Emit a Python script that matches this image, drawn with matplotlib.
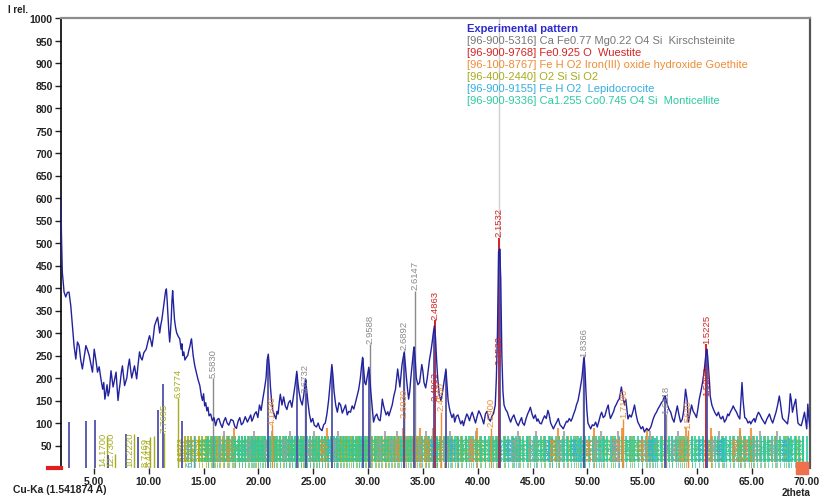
import numpy as np
import matplotlib
matplotlib.use('Agg')
import matplotlib.pyplot as plt
from matplotlib.patches import Rectangle

plt.rcParams['font.family'] = ['Liberation Sans', 'DejaVu Sans']

WAVELENGTH = 1.541874   # Cu-Ka

# experimental pattern (2theta, I rel.)
exp_2t = [2.00, 2.04, 2.12, 2.28, 2.43, 2.58, 2.73, 2.89, 3.04, 3.19, 3.35, 3.50, 3.65, 3.8, 3.95, 4.1, 4.27, 4.42, 4.57, 4.72,
          4.87, 5.03, 5.18, 5.33, 5.48, 5.64, 5.8, 5.9, 6.0, 6.1, 6.2, 6.3, 6.4, 6.56, 6.75, 6.9, 7.02, 7.1, 7.2, 7.3,
          7.4, 7.5, 7.6, 7.7, 7.8, 7.9, 8.0, 8.12, 8.24, 8.35, 8.45, 8.58, 8.70, 8.8, 8.9, 9.03, 9.16, 9.28, 9.4, 9.55,
          9.77, 9.92, 10.07, 10.2, 10.3, 10.42, 10.53, 10.67, 10.81, 10.9, 11.0, 11.1, 11.2, 11.33, 11.45, 11.53, 11.61, 11.68, 11.75, 11.83,
          11.91, 11.98, 12.05, 12.12, 12.18, 12.26, 12.35, 12.45, 12.55, 12.7, 12.83, 12.95, 13.03, 13.10, 13.2, 13.3, 13.43, 13.56, 13.66, 13.75,
          13.83, 13.90, 14.05, 14.20, 14.34, 14.48, 14.66, 14.8, 14.9, 15.0, 15.1, 15.2, 15.3, 15.4, 15.5, 15.65, 15.8, 15.95, 16.1, 16.25,
          16.4, 16.55, 16.7, 16.85, 17.0, 17.15, 17.3, 17.5, 17.7, 17.85, 18.0, 18.15, 18.3, 18.45, 18.6, 18.8, 19.0, 19.15, 19.3, 19.4,
          19.5, 19.65, 19.8, 19.95, 20.1, 20.25, 20.4, 20.55, 20.7, 20.8, 20.9, 21.0, 21.1, 21.2, 21.3, 21.45, 21.6, 21.7, 21.8, 21.9,
          22.0, 22.15, 22.3, 22.45, 22.6, 22.75, 22.9, 23.05, 23.2, 23.35, 23.5, 23.6, 23.7, 23.85, 24.0, 24.15, 24.3, 24.4, 24.5, 24.65,
          24.8, 24.95, 25.1, 25.3, 25.45, 25.6, 25.8, 25.95, 26.1, 26.25, 26.4, 26.55, 26.7, 26.8, 26.9, 27.05, 27.2, 27.35, 27.5, 27.65,
          27.8, 27.95, 28.1, 28.25, 28.4, 28.55, 28.7, 28.85, 29.0, 29.15, 29.3, 29.4, 29.5, 29.6, 29.7, 29.8, 29.9, 30.0, 30.07, 30.15,
          30.25, 30.4, 30.5, 30.65, 30.8, 30.95, 31.1, 31.2, 31.3, 31.4, 31.5, 31.65, 31.8, 31.9, 32.05, 32.2, 32.35, 32.5, 32.6, 32.7,
          32.8, 32.9, 33.0, 33.1, 33.2, 33.3, 33.4, 33.5, 33.6, 33.7, 33.8, 33.9, 34.0, 34.05, 34.15, 34.2, 34.3, 34.4, 34.55, 34.7,
          34.8, 34.9, 35.0, 35.1, 35.25, 35.4, 35.5, 35.6, 35.75, 35.85, 35.95, 36.05, 36.15, 36.25, 36.35, 36.5, 36.65, 36.8, 36.95, 37.1,
          37.2, 37.3, 37.4, 37.5, 37.65, 37.8, 37.9, 38.05, 38.2, 38.3, 38.45, 38.6, 38.7, 38.85, 39.0, 39.1, 39.25, 39.4, 39.5, 39.65,
          39.8, 39.95, 40.1, 40.25, 40.4, 40.55, 40.7, 40.85, 41.0, 41.15, 41.3, 41.45, 41.6, 41.7, 41.8, 41.9, 42.0, 42.1, 42.2, 42.3,
          42.4, 42.55, 42.7, 42.85, 43.0, 43.15, 43.3, 43.4, 43.55, 43.7, 43.85, 44.0, 44.1, 44.25, 44.4, 44.55, 44.7, 44.8, 44.95, 45.1,
          45.25, 45.4, 45.5, 45.65, 45.8, 45.95, 46.1, 46.25, 46.4, 46.5, 46.65, 46.8, 46.9, 47.05, 47.2, 47.35, 47.5, 47.65, 47.8, 47.95,
          48.1, 48.2, 48.35, 48.5, 48.6, 48.75, 48.9, 49.0, 49.15, 49.3, 49.4, 49.5, 49.6, 49.7, 49.78, 49.85, 49.95, 50.05, 50.2, 50.3,
          50.45, 50.6, 50.75, 50.9, 51.05, 51.2, 51.3, 51.45, 51.6, 51.75, 51.9, 52.0, 52.1, 52.25, 52.4, 52.5, 52.65, 52.8, 52.9, 53.0,
          53.1, 53.2, 53.3, 53.4, 53.5, 53.6, 53.7, 53.85, 54.0, 54.15, 54.3, 54.45, 54.6, 54.75, 54.9, 55.05, 55.2, 55.4, 55.6, 55.8,
          56.0, 56.15, 56.3, 56.45, 56.6, 56.75, 56.9, 57.0, 57.1, 57.2, 57.3, 57.45, 57.6, 57.75, 57.9, 58.05, 58.2, 58.35, 58.5, 58.65,
          58.8, 58.95, 59.1, 59.2, 59.35, 59.5, 59.65, 59.8, 59.95, 60.1, 60.2, 60.35, 60.5, 60.65, 60.75, 60.85, 60.9, 60.98, 61.05, 61.15,
          61.2, 61.35, 61.5, 61.65, 61.8, 61.95, 62.1, 62.2, 62.35, 62.5, 62.65, 62.8, 62.9, 63.05, 63.2, 63.3, 63.45, 63.6, 63.75, 63.9,
          64.0, 64.1, 64.2, 64.35, 64.5, 64.65, 64.8, 64.9, 65.05, 65.2, 65.3, 65.45, 65.6, 65.75, 65.9, 66.05, 66.2, 66.35, 66.5, 66.6,
          66.75, 66.9, 67.05, 67.2, 67.35, 67.5, 67.6, 67.7, 67.8, 67.95, 68.1, 68.25, 68.4, 68.5, 68.6, 68.7, 68.85, 69.0, 69.1, 69.2,
          69.35, 69.5, 69.65, 69.8, 69.9, 70.0, 70.1, 70.2, 70.3]
exp_i = [600, 520, 435, 391, 380, 390, 391, 361, 316, 272, 242, 280, 272, 240, 220, 245, 272, 262, 250, 232,
         213, 264, 240, 213, 225, 198, 175, 190, 153, 168, 185, 160, 170, 216, 180, 198, 213, 185, 150, 172,
         190, 212, 227, 205, 183, 192, 200, 225, 242, 218, 200, 214, 227, 212, 198, 230, 258, 245, 240, 256,
         264, 280, 294, 282, 270, 292, 316, 326, 335, 318, 300, 318, 330, 355, 380, 392, 398, 372, 340, 305,
         280, 302, 330, 372, 394, 365, 330, 312, 300, 292, 287, 264, 276, 250, 258, 240, 246, 250, 262, 270,
         280, 287, 250, 227, 212, 198, 183, 160, 150, 165, 138, 145, 127, 135, 116, 120, 105, 112, 94, 108,
         110, 98, 90, 104, 112, 100, 95, 108, 105, 92, 88, 104, 112, 96, 100, 114, 102, 110, 118, 104,
         109, 120, 125, 112, 140, 128, 153, 175, 200, 240, 253, 225, 180, 150, 130, 118, 109, 126, 120, 145,
         164, 140, 158, 138, 130, 145, 150, 135, 160, 185, 215, 190, 170, 150, 140, 165, 198, 175, 150, 120,
         102, 110, 95, 91, 100, 88, 83, 96, 100, 120, 150, 190, 230, 205, 170, 140, 124, 145, 140, 122,
         131, 140, 118, 126, 124, 138, 131, 145, 160, 175, 200, 225, 246, 220, 190, 185, 200, 215, 224, 205,
         170, 130, 102, 115, 120, 108, 105, 125, 153, 140, 130, 118, 125, 116, 128, 140, 160, 175, 198, 220,
         200, 180, 205, 230, 245, 257, 230, 200, 175, 153, 170, 200, 225, 240, 262, 269, 240, 200, 185, 190,
         210, 230, 215, 190, 178, 200, 220, 240, 262, 280, 300, 316, 290, 240, 200, 160, 150, 170, 195, 220,
         185, 150, 135, 124, 112, 120, 102, 115, 118, 110, 98, 105, 94, 108, 120, 116, 105, 118, 124, 112,
         100, 115, 127, 120, 110, 98, 120, 126, 109, 104, 115, 122, 140, 200, 300, 480, 487, 420, 250, 170,
         140, 130, 124, 112, 102, 112, 118, 110, 100, 94, 104, 112, 100, 95, 109, 120, 128, 135, 120, 110,
         118, 104, 109, 100, 98, 108, 116, 110, 128, 120, 100, 92, 87, 95, 102, 110, 96, 92, 87, 96,
         104, 102, 110, 104, 109, 120, 130, 140, 150, 170, 185, 200, 225, 247, 220, 180, 130, 100, 92, 87,
         96, 94, 102, 91, 104, 118, 124, 112, 116, 130, 140, 122, 110, 118, 126, 135, 142, 150, 153, 165,
         180, 165, 150, 140, 153, 130, 109, 118, 113, 125, 140, 118, 102, 95, 87, 92, 80, 88, 83, 92,
         109, 118, 124, 132, 138, 145, 150, 158, 160, 150, 140, 130, 124, 110, 102, 120, 138, 118, 102, 108,
         130, 175, 150, 102, 120, 140, 126, 120, 112, 135, 153, 170, 190, 215, 240, 262, 264, 245, 220, 185,
         160, 140, 130, 122, 116, 124, 112, 109, 115, 102, 108, 120, 116, 125, 132, 138, 130, 124, 115, 109,
         150, 190, 150, 112, 109, 100, 104, 98, 105, 110, 102, 115, 124, 118, 110, 104, 98, 108, 115, 120,
         108, 100, 112, 124, 140, 160, 145, 125, 110, 106, 102, 98, 125, 165, 150, 124, 140, 153, 125, 100,
         96, 94, 108, 124, 105, 87, 142, 110, 90]

# peak markers of the experimental pattern
peak_2t = [2.73, 4.24, 5.06, 6.28, 7.9, 9.02, 10.85, 11.3, 13.0, 20.9, 23.5, 24.3, 26.7, 29.5, 30.07,
           33.3, 34.2, 36.05, 37.1, 42.0, 49.7, 57.1, 60.9]
peak_i = [102, 104, 107, 29, 76, 69, 130, 187, 105, 250, 210, 195, 225, 245, 220,
          255, 265, 310, 215, 487, 245, 155, 260]

# labelled reference lines (d in A, height)
kirsch_d = [5.5830, 3.6732, 2.9588, 2.6892, 2.6147, 1.8366, 1.6118]
kirsch_h = [200, 165, 275, 262, 394, 245, 120]
wuest_d = [2.4863, 2.1532, 1.5225]
wuest_h = [328, 512, 275]
wuest2_h = [150, 232, 162]
goeth_d = [4.1830, 2.6930, 2.4500, 2.1900, 1.7190, 1.5610]
goeth_h = [95, 110, 125, 90, 110, 85]
lepido_d = [6.2600]
lepido_h = [72]
silica_low_d = [14.1700, 12.7300, 10.2220, 8.7469, 8.4424]
silica_low_h = [72, 32, 76, 70, 72]
silica_d = [7.7695, 6.9774]
silica_h = [78, 155]

# dense reference lines near the base (2theta)
silica_band = [13.3, 13.6, 13.9, 14.25, 14.6, 14.9, 15.2, 15.45, 15.7, 15.95, 16.2, 16.5, 16.8, 17.1, 17.35, 17.65,
               17.9, 18.2, 18.5, 18.8, 19.1, 19.4, 19.75, 20.0, 20.3, 20.6, 20.85, 21.1, 21.4, 21.65, 21.95, 22.25,
               22.5, 22.8, 23.05, 23.35, 23.6, 23.85, 24.1, 24.4, 24.7, 25.0, 25.3, 25.55, 25.8, 26.1, 26.35, 26.65,
               26.9, 27.2, 27.5, 27.8, 28.1, 28.4, 28.65, 28.95, 29.2, 29.5, 29.8, 30.1, 30.4, 30.7, 31.0, 31.3,
               31.6, 31.9, 32.15, 32.5, 32.8, 33.15, 33.5, 33.8, 34.1, 34.45, 34.8, 35.15, 35.5, 35.85, 36.2, 36.55,
               36.9, 37.3, 37.7, 38.1, 38.5, 38.95, 39.4, 39.8, 40.2, 40.7, 41.2, 41.8, 42.5, 43.2, 43.9, 44.6,
               45.3, 46.0, 46.6, 47.4, 48.2, 49.0, 49.8, 50.6, 51.5, 52.3, 53.2, 54.1, 55.0, 55.9, 56.8, 57.7,
               58.6, 59.5, 60.5, 61.4, 62.4, 63.3, 64.3, 65.2, 66.2, 67.1, 68.1, 69.0, 69.7]
montic_band = [15.4, 15.75, 16.05, 16.4, 16.9, 17.25, 17.6, 17.9, 18.2, 18.5, 18.75, 19.05, 19.3, 19.5, 19.7, 19.95,
               20.15, 20.4, 20.6, 20.85, 21.1, 21.4, 21.7, 22.0, 22.3, 22.55, 22.8, 23.05, 23.3, 23.6, 23.9, 24.15,
               24.4, 24.7, 25.0, 25.25, 25.5, 25.8, 26.1, 26.35, 26.6, 26.9, 27.2, 27.45, 27.7, 28.0, 28.3, 28.6,
               28.9, 29.15, 29.4, 29.7, 30.0, 30.3, 30.6, 30.9, 31.2, 31.5, 31.8, 32.1, 32.4, 32.7, 33.0, 33.3,
               33.6, 33.95, 34.3, 34.6, 34.9, 35.25, 35.6, 35.95, 36.3, 36.65, 37.0, 37.3, 37.6, 37.9, 38.2, 38.55,
               38.9, 39.25, 39.6, 39.95, 40.3, 40.65, 41.0, 41.35, 41.7, 42.05, 42.4, 42.75, 43.1, 43.45, 43.8, 44.15,
               44.5, 44.8, 45.1, 45.45, 45.8, 46.15, 46.5, 46.8, 47.1, 47.45, 47.8, 48.15, 48.5, 48.8, 49.1, 49.45,
               49.8, 50.15, 50.5, 50.8, 51.1, 51.45, 51.8, 52.15, 52.5, 52.85, 53.2, 53.55, 53.9, 54.25, 54.6, 54.95,
               55.3, 55.65, 56.0, 56.35, 56.7, 57.05, 57.4, 57.75, 58.1, 58.45, 58.8, 59.15, 59.5, 59.85, 60.2, 60.55,
               60.9, 61.25, 61.6, 61.95, 62.3, 62.65, 63.0, 63.35, 63.7, 64.05, 64.4, 64.75, 65.1, 65.45, 65.8, 66.15,
               66.5, 66.85, 67.2, 67.55, 67.9, 68.25, 68.6, 68.95, 69.3, 69.65, 70.0]
lepido_band = [27.1, 36.3, 38.2, 43.3, 46.8, 49.3, 52.9, 56.2, 60.8, 62.5, 64.9, 68.4]
kirsch_band = [16.9, 19.6, 21.2, 22.9, 25.1, 27.3, 31.5, 32.6, 35.3, 37.5, 39.8, 43.7, 45.3, 47.9, 51.2,
               52.8, 55.7, 58.3, 62.0, 63.9, 65.7, 67.3]
goeth_band = [17.8, 26.3, 33.2, 34.7, 35.9, 39.9, 47.3, 50.6, 53.2, 55.4, 59.0, 61.3, 63.9, 64.9]
band_h = 71
band_floor = 14
cursor_2t = 41.93

legend_lines = ['Experimental pattern',
                '[96-900-5316] Ca Fe0.77 Mg0.22 O4 Si  Kirschsteinite',
                '[96-900-9768] Fe0.925 O  Wuestite',
                '[96-100-8767] Fe H O2 Iron(III) oxide hydroxide Goethite',
                '[96-400-2440] O2 Si Si O2',
                '[96-900-9155] Fe H O2  Lepidocrocite',
                '[96-900-9336] Ca1.255 Co0.745 O4 Si  Monticellite']

C_EXP = '#22229e'
C_PEAK = '#5050aa'
C_KIR = '#8a8a8a'
C_WUE = '#d42424'
C_GOE = '#ee8c34'
C_SIL = '#a6ac1c'
C_LEP = '#34aee0'
C_MON = '#2ccaa2'
legend_colors = ['#2a2ad0', '#777777', C_WUE, C_GOE, C_SIL, C_LEP, C_MON]


def two_theta(d):
    return np.degrees(2 * np.arcsin(WAVELENGTH / (2 * np.asarray(d))))


def d_spacing(tt):
    return WAVELENGTH / (2 * np.sin(np.radians(np.asarray(tt) / 2)))


fig = plt.figure(figsize=(8.19, 5.02), dpi=100)
ax = fig.add_axes([61 / 819, 1 - 469 / 502, 749 / 819, 450 / 502])


def band(ax, tt, color, h, fs=5.6):
    # dense stick lines with their d labels written inside the base band
    ax.vlines(tt, band_floor, h, color=color, lw=1.5, alpha=0.85, zorder=2)
    ax.vlines(tt, 0, band_floor, color=color, lw=0.5, zorder=2)
    for t, d in zip(tt, d_spacing(tt)):
        ax.text(t, band_floor + 3, f'{d:.4f}', rotation=90, ha='right', va='bottom', fontsize=fs,
                color=color, zorder=3, fontweight='bold')


def labelled(ax, dvals, heights, color, lw=1.0, fs=6.8, low=False):
    tt = two_theta(dvals)
    ax.vlines(tt, 0, heights, color=color, lw=lw, zorder=3)
    for t, d, h in zip(tt, dvals, heights):
        if low:
            ax.text(t, 5, f'{d:.4f}', rotation=90, ha='right', va='bottom', fontsize=fs,
                    color=color, zorder=6)
        else:
            ax.text(t, h + 3, f'{d:.4f}', rotation=90, ha='center', va='bottom', fontsize=fs,
                    color=color, zorder=6)


ax.axvline(cursor_2t, color='#cfcfcf', lw=1.0, zorder=1)

# base band
band(ax, silica_band, C_SIL, band_h)
band(ax, montic_band, C_MON, band_h)
band(ax, lepido_band, C_LEP, band_h - 4)
band(ax, kirsch_band, '#a0a0a0', band_h + 12)
band(ax, goeth_band, C_GOE, band_h + 18)

# labelled lines
labelled(ax, silica_low_d, silica_low_h, C_SIL, low=True)
labelled(ax, silica_d, silica_h, C_SIL)
labelled(ax, lepido_d, lepido_h, C_LEP, low=True)
labelled(ax, goeth_d, goeth_h, C_GOE)
labelled(ax, kirsch_d, kirsch_h, C_KIR)
ax.vlines(peak_2t, 0, peak_i, color=C_PEAK, lw=1.3, zorder=4)
labelled(ax, wuest_d, wuest_h, C_WUE, lw=1.4)
for t, d, h in zip(two_theta(wuest_d), wuest_d, wuest2_h):
    ax.text(t, h, f'{d:.4f}', rotation=90, ha='center', va='bottom', fontsize=6.8,
            color=C_WUE, zorder=6)

ax.plot(exp_2t, exp_i, color=C_EXP, lw=1.0, zorder=5)

# legend block
for k, (txt, col) in enumerate(zip(legend_lines, legend_colors)):
    ax.text(0.542, 0.978 - k * 0.0267, txt, transform=ax.transAxes, fontsize=8, color=col,
            ha='left', va='center', fontweight='bold' if k == 0 else 'normal', zorder=7)

ax.set_xlim(2, 70.3)
ax.set_ylim(0, 1000)
ax.set_xticks(range(5, 71, 5))
ax.set_xticklabels([f'{v:.2f}' for v in range(5, 71, 5)])
ax.set_yticks(range(50, 1001, 50))
ax.tick_params(axis='both', labelsize=7.5, length=4, width=1, colors='#222222', pad=2)
for lab in ax.get_xticklabels() + ax.get_yticklabels():
    lab.set_fontweight('bold')

for s in ['top', 'right']:
    ax.spines[s].set_color('#8c8c8c')
    ax.spines[s].set_linewidth(1.6)
ax.spines['right'].set_color('#555555')
ax.spines['left'].set_linewidth(1.2)
ax.spines['bottom'].set_visible(False)

# small markers at the ends of the axis
ax.plot([-0.018, 0.0], [0, 0], transform=ax.transAxes, color='#e02020', lw=3, clip_on=False, zorder=8)
ax.add_patch(Rectangle((0.981, -0.014), 0.016, 0.028, transform=ax.transAxes, color='#f0704c',
                       clip_on=False, zorder=8))

fig.text(8 / 819, 1 - 10 / 502, 'I rel.', fontsize=7, ha='left', va='center', color='#222222', fontweight='bold')
fig.text(13 / 819, 1 - 490 / 502, 'Cu-Ka (1.541874 A)', fontsize=7.5, ha='left', va='center',
         color='#222222', fontweight='bold')
fig.text(796 / 819, 1 - 493 / 502, '2theta', fontsize=7, ha='center', va='center', color='#222222',
         fontweight='bold')

fig.savefig('out.png', dpi=100)
